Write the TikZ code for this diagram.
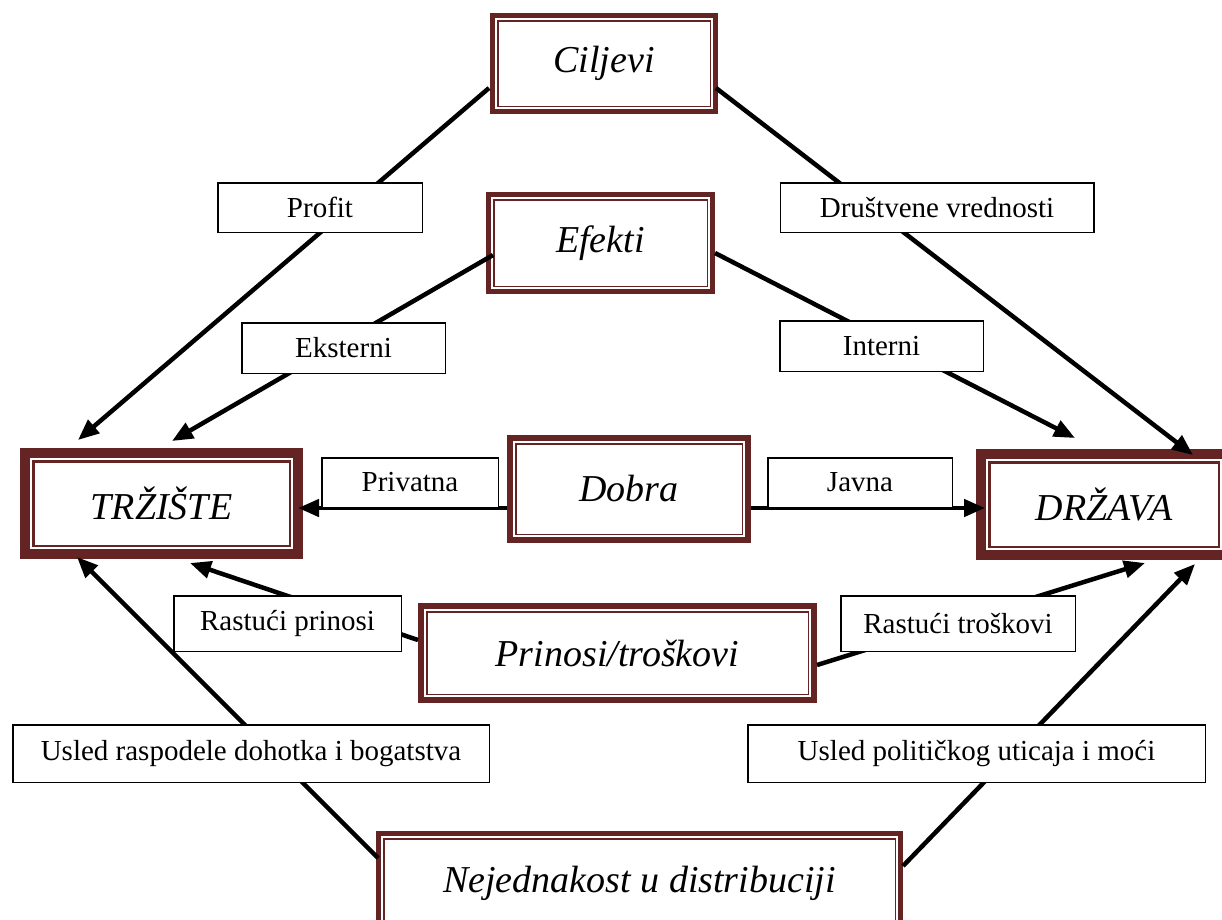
\documentclass[tikz,border=0pt]{standalone}
\usepackage{fontspec}
\setmainfont{Liberation Serif}
\usetikzlibrary{arrows.meta}
\definecolor{framecol}{RGB}{99,36,35}
\begin{document}
\begin{tikzpicture}[x=1pt,y=-1pt,
  big/.style={draw=framecol, fill=white, line width=#1, inner sep=0pt, outer sep=0pt,
    font=\fontsize{38}{45}\selectfont\itshape},
  lab/.style={draw=black, fill=white, line width=1.5pt, inner sep=0pt, outer sep=0pt,
    font=\fontsize{29}{34}\selectfont},
  conn/.style={line width=4.5pt, -{Triangle[length=21pt,width=17pt]}}]
\useasboundingbox (0,0) rectangle (1222,919);
\clip (0,0) rectangle (1222,919);
\fill[white] (0,0) rectangle (1222,919);

% framed boxes
\node[big=5pt, minimum width=223pt, minimum height=96pt] (cil) at (604,63.5) {Ciljevi};
\node[big=5pt, minimum width=224pt, minimum height=97pt] (efe) at (600.5,243) {Efekti};
\node[big=10pt, minimum width=273pt, minimum height=101pt] (trz) at (161.5,503.5) {TRŽIŠTE};
\node[big=10pt, minimum width=246pt, minimum height=101pt] (drz) at (1104,504.5) {DRŽAVA};
\node[big=6pt, minimum width=238pt, minimum height=102pt] (dob) at (629,489) {Dobra};
\node[big=6pt, minimum width=393pt, minimum height=94pt] (pri) at (617.5,653) {Prinosi/troškovi};
\node[big=5pt, minimum width=522pt, minimum height=99pt] (nej) at (639.5,883) {Nejednakost u distribuciji};

\foreach \n/\d/\w in {cil/5.25/1.5, efe/5.25/1.5, trz/8.25/2.5, drz/8.25/2.5, dob/5.75/1.5, pri/5.75/1.5, nej/5.25/1.5}
  \draw[framecol, line width=\w pt] ([xshift=\d pt,yshift=-\d pt]\n.north west) rectangle ([xshift=-\d pt,yshift=\d pt]\n.south east);

% connectors
\draw[conn] ([shift={(-115,24.5)}]cil.center) -- ([shift={(-83.5,-63.5)}]trz.center);
\draw[conn] ([shift={(112,24.5)}]cil.center) -- ([shift={(89,-49.5)}]drz.center);
\draw[conn] ([shift={(-107.5,12)}]efe.center) -- ([shift={(10.5,-62.5)}]trz.center);
\draw[conn] ([shift={(114.5,10)}]efe.center) -- ([shift={(-29,-66.5)}]drz.center);
\draw[conn] ([shift={(-122,19)}]dob.center) -- ([shift={(136.5,4.5)}]trz.center);
\draw[conn] ([shift={(122,19)}]dob.center) -- ([shift={(-119,3.5)}]drz.center);
\draw[conn] ([shift={(-199.5,-13)}]pri.center) -- ([shift={(28.5,59.5)}]trz.center);
\draw[conn] ([shift={(199.5,12)}]pri.center) -- ([shift={(41,58.5)}]drz.center);
\draw[conn] ([shift={(-261.5,-25)}]nej.center) -- ([shift={(-84.5,53.5)}]trz.center);
\draw[conn] ([shift={(263.5,-17)}]nej.center) -- ([shift={(91,59.5)}]drz.center);

% label boxes
\node[lab, minimum width=204.5pt, minimum height=49.5pt] (profit) at (320,207.5) {Profit};
\node[lab, minimum width=313.5pt, minimum height=49.5pt] (drustv) at (937,207.5) {Društvene vrednosti};
\node[lab, minimum width=203.5pt, minimum height=50.5pt] (ekst) at (343.5,348) {Eksterni};
\node[lab, minimum width=203.5pt, minimum height=50.5pt] (intern) at (881.5,346) {Interni};
\node[lab, minimum width=176.5pt, minimum height=49.5pt] (priv) at (410,482.5) {Privatna};
\node[lab, minimum width=184.5pt, minimum height=49.5pt] (javna) at (860,482.5) {Javna};
\node[lab, minimum width=227.5pt, minimum height=55.5pt] (rprin) at (287.5,623.5) {Rastući prinosi};
\node[lab, minimum width=234.5pt, minimum height=55.5pt] (rtros) at (958,623.5) {Rastući troškovi};
\node[lab, minimum width=476.5pt, minimum height=57.5pt] (usr) at (251,753.5) {Usled raspodele dohotka i bogatstva};
\node[lab, minimum width=457.5pt, minimum height=57.5pt] (usp) at (976.5,753.5) {Usled političkog uticaja i moći};
\end{tikzpicture}
\end{document}
